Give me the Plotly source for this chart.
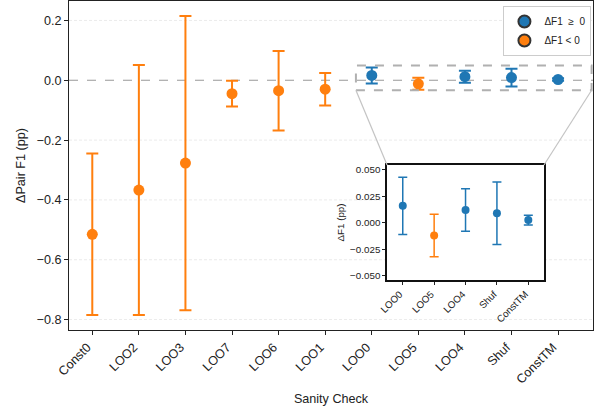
import plotly.graph_objects as go

# Sanity-check results: mean change in pair F1 (percentage points) with CI half-widths
checks = ["Const0", "LOO2", "LOO3", "LOO7", "LOO6", "LOO1", "LOO0", "LOO5", "LOO4", "Shuf", "ConstTM"]
delta_f1 = [-0.515, -0.367, -0.277, -0.045, -0.035, -0.030, 0.016, -0.012, 0.012, 0.009, 0.0025]
ci_half = [0.270, 0.418, 0.492, 0.043, 0.133, 0.054, 0.027, 0.020, 0.020, 0.0295, 0.0045]

# Checks shown in the zoomed inset
zoom_checks = ["LOO0", "LOO5", "LOO4", "Shuf", "ConstTM"]

main_yticks = [0.2, 0.0, -0.2, -0.4, -0.6, -0.8]
inset_yticks = [0.050, 0.025, 0.0, -0.025, -0.050]

BLUE = "#1f77b4"
ORANGE = "#ff7f0e"
FONT = "Liberation Sans, Arial, sans-serif"
MAIN_FS = 12.6
INSET_FS = 9.8

XR = [-0.5, 10.75]
YR = [-0.835, 0.265]
INSET_YR = [-0.054, 0.0545]
INSET_DOM_X = [0.607, 0.9065]
INSET_DOM_Y = [0.152, 0.5015]

fig = go.Figure()


def split(names, vals, errs, positive):
    xs, ys, es = [], [], []
    for n, v, e in zip(names, vals, errs):
        if (v >= 0) == positive:
            xs.append(n)
            ys.append(v)
            es.append(e)
    return xs, ys, es


# Main panel
for positive, color in [(False, ORANGE), (True, BLUE)]:
    xs, ys, es = split(checks, delta_f1, ci_half, positive)
    fig.add_trace(go.Scatter(
        x=xs, y=ys, mode="markers",
        marker=dict(color=color, size=11),
        error_y=dict(type="data", array=es, color=color, thickness=2, width=6),
        showlegend=False, xaxis="x", yaxis="y",
    ))

# Inset panel
zoom_vals = [delta_f1[checks.index(c)] for c in zoom_checks]
zoom_errs = [ci_half[checks.index(c)] for c in zoom_checks]
for positive, color in [(False, ORANGE), (True, BLUE)]:
    xs, ys, es = split(zoom_checks, zoom_vals, zoom_errs, positive)
    fig.add_trace(go.Scatter(
        x=xs, y=ys, mode="markers",
        marker=dict(color=color, size=8),
        error_y=dict(type="data", array=es, color=color, thickness=1.5, width=4.5),
        showlegend=False, xaxis="x2", yaxis="y2",
    ))

# Legend entries
for name, color in [("ΔF1  ≥  0", BLUE), ("ΔF1 < 0", ORANGE)]:
    fig.add_trace(go.Scatter(
        x=[None], y=[None], mode="markers", name=name,
        marker=dict(color=color, size=10, line=dict(color="#333", width=0.7)),
        xaxis="x", yaxis="y",
    ))

shapes = []

# inset background so the main grid does not show through
shapes.append(dict(type="rect", xref="paper", yref="paper",
                   x0=INSET_DOM_X[0], x1=INSET_DOM_X[1],
                   y0=INSET_DOM_Y[0], y1=INSET_DOM_Y[1],
                   fillcolor="white", line=dict(width=0), layer="below"))

# light dashed grid at the non-zero ticks
for t in main_yticks:
    if t != 0:
        shapes.append(dict(type="line", xref="x domain", yref="y", x0=0, x1=1, y0=t, y1=t,
                           line=dict(color="#e6e6e6", width=0.8, dash="3px,2px"), layer="below"))
for t in inset_yticks:
    if t != 0:
        shapes.append(dict(type="line", xref="x2 domain", yref="y2", x0=0, x1=1, y0=t, y1=t,
                           line=dict(color="#e6e6e6", width=0.8, dash="3px,2px"), layer="below"))

# dashed zero lines
shapes.append(dict(type="line", xref="x domain", yref="y", x0=0, x1=1, y0=0, y1=0,
                   line=dict(color="#999", width=1.2, dash="dash"), layer="below"))
shapes.append(dict(type="line", xref="x2 domain", yref="y2", x0=0, x1=1, y0=0, y1=0,
                   line=dict(color="#999", width=1.2, dash="dash"), layer="below"))

# zoom region in the main panel
zx0, zx1 = 5.66, 10.72
zy0, zy1 = -0.0335, 0.049
shapes.append(dict(type="rect", xref="x", yref="y", x0=zx0, x1=zx1, y0=zy0, y1=zy1,
                   line=dict(color="#b0b0b0", width=2, dash="dash")))


def to_paper_x(v):
    return (v - XR[0]) / (XR[1] - XR[0])


def to_paper_y(v):
    return (v - YR[0]) / (YR[1] - YR[0])


for corner_x, inset_x in [(zx0, INSET_DOM_X[0]), (zx1, INSET_DOM_X[1])]:
    shapes.append(dict(type="line", xref="paper", yref="paper",
                       x0=to_paper_x(corner_x), y0=to_paper_y(zy0),
                       x1=inset_x, y1=INSET_DOM_Y[1],
                       line=dict(color="#c4c4c4", width=1.2)))

fig.update_layout(
    width=595, height=412,
    margin=dict(l=69, r=2, t=1, b=82),
    paper_bgcolor="white", plot_bgcolor="white",
    font=dict(family=FONT, size=MAIN_FS, color="#222"),
    shapes=shapes,
    xaxis=dict(
        type="category", categoryorder="array", categoryarray=checks,
        range=XR, tickangle=-45, ticks="outside", ticklen=4, tickcolor="#222",
        showline=True, linecolor="#222", linewidth=1, mirror=True,
        showgrid=False, zeroline=False, ticklabelshift=-5,
        title=dict(text="Sanity Check", font=dict(size=MAIN_FS), standoff=8),
        tickfont=dict(size=MAIN_FS),
    ),
    yaxis=dict(
        range=YR, tickvals=main_yticks, tickformat=".1f",
        ticks="outside", ticklen=4, tickcolor="#222",
        showline=True, linecolor="#222", linewidth=1, mirror=True,
        showgrid=False, zeroline=False,
        title=dict(text="ΔPair F1 (pp)", font=dict(size=MAIN_FS), standoff=8),
        tickfont=dict(size=MAIN_FS),
    ),
    xaxis2=dict(
        domain=INSET_DOM_X, anchor="y2",
        type="category", categoryorder="array", categoryarray=zoom_checks,
        range=[-0.5, 4.5], tickangle=-45, ticks="outside", ticklen=3, tickcolor="#222",
        showline=True, linecolor="#111", linewidth=1.5, mirror=True,
        showgrid=False, zeroline=False, ticklabelshift=-3, tickfont=dict(size=INSET_FS),
    ),
    yaxis2=dict(
        domain=INSET_DOM_Y, anchor="x2",
        range=INSET_YR, tickvals=inset_yticks, tickformat=".3f",
        ticks="outside", ticklen=3, tickcolor="#222",
        showline=True, linecolor="#111", linewidth=1.5, mirror=True,
        showgrid=False, zeroline=False, tickfont=dict(size=INSET_FS),
        title=dict(text="ΔF1 (pp)", font=dict(size=INSET_FS), standoff=4),
    ),
    legend=dict(
        x=0.997, y=0.985, xanchor="right", yanchor="top",
        bgcolor="white", bordercolor="#cccccc", borderwidth=1,
        font=dict(size=10), itemsizing="constant", tracegroupgap=0,
    ),
)

fig.write_html("out.html")
